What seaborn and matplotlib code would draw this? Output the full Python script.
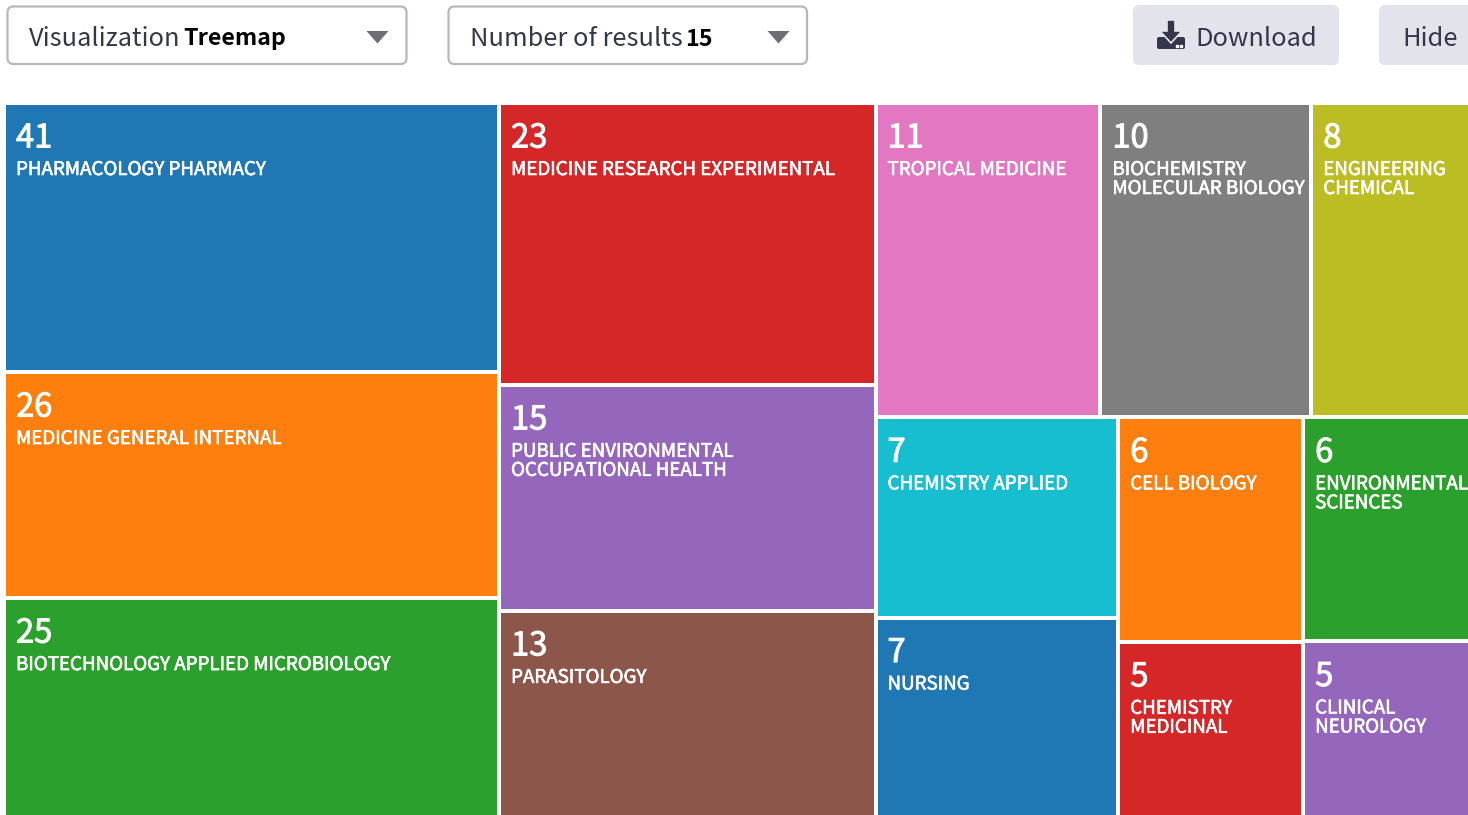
import matplotlib
matplotlib.use("Agg")
import matplotlib.pyplot as plt
import matplotlib.patheffects as pe
from matplotlib.patches import FancyBboxPatch, Polygon
import seaborn as sns

# ---- data ----
categories = ["PHARMACOLOGY PHARMACY", "MEDICINE GENERAL INTERNAL", "BIOTECHNOLOGY APPLIED MICROBIOLOGY",
              "MEDICINE RESEARCH EXPERIMENTAL", "PUBLIC ENVIRONMENTAL\nOCCUPATIONAL HEALTH", "PARASITOLOGY",
              "TROPICAL MEDICINE", "BIOCHEMISTRY\nMOLECULAR BIOLOGY", "ENGINEERING\nCHEMICAL",
              "CHEMISTRY APPLIED", "NURSING", "CELL BIOLOGY", "ENVIRONMENTAL\nSCIENCES",
              "CHEMISTRY\nMEDICINAL", "CLINICAL\nNEUROLOGY"]
counts = [41, 26, 25, 23, 15, 13, 11, 10, 8, 7, 7, 6, 6, 5, 5]
# tile areas (the tiles are not proportional to the counts)
tile_areas = [133.2, 111.9, 108.4, 106.1, 85.1, 77.6, 70.7, 66.3, 49.9, 48.6, 48.4, 41.5, 37.4, 32.4, 29.3]
# slice-and-dice tree: "h" splits left/right, "v" splits top/bottom
tree = ("h", [("v", [0, 1, 2]),
              ("v", [3, 4, 5]),
              ("v", [("h", [6, 7, 8]),
                     ("h", [("v", [9, 10]), ("v", [11, 13]), ("v", [12, 14])])])])

sns.set_theme(style="white")
plt.rcParams["font.family"] = ["Noto Sans CJK SC", "DejaVu Sans"]
palette = sns.color_palette("tab10")

W, H = 1468, 815
fig = plt.figure(figsize=(W / 100, H / 100), dpi=100, facecolor="white")
ax = fig.add_axes([0, 0, 1, 1])
ax.set_xlim(0, W)
ax.set_ylim(H, 0)
ax.axis("off")


def weight(node):
    if isinstance(node, int):
        return tile_areas[node]
    return sum(weight(c) for c in node[1])


def layout(node, x0, y0, x1, y1, out):
    if isinstance(node, int):
        out[node] = (x0, y0, x1, y1)
        return
    total = weight(node)
    pos = x0 if node[0] == "h" else y0
    for child in node[1]:
        f = weight(child) / total
        if node[0] == "h":
            nxt = pos + f * (x1 - x0)
            layout(child, pos, y0, nxt, y1, out)
        else:
            nxt = pos + f * (y1 - y0)
            layout(child, x0, pos, x1, nxt, out)
        pos = nxt


cells = {}
layout(tree, 4, 103, 1470, 817, cells)

GAP_PT = 4 * 72 / 100
heavy = [pe.withStroke(linewidth=0.45, foreground="white")]
for i, (name, n) in enumerate(zip(categories, counts)):
    x0, y0, x1, y1 = cells[i]
    ax.bar(x0, y1 - y0, width=x1 - x0, bottom=y0, align="edge",
           color=palette[i % 10], edgecolor="white", linewidth=GAP_PT)
    tx = x0 + 12
    ty = y0 + 2
    ax.text(tx, ty + 42.5, str(n), color="white", fontsize=23.5, va="baseline", ha="left",
            path_effects=[pe.withStroke(linewidth=0.7, foreground="white")])
    for j, line in enumerate(name.split("\n")):
        ax.text(tx, ty + 70 + 19 * j, line, color="white", fontsize=13.5,
                va="baseline", ha="left", path_effects=heavy)

# ---- controls above the chart ----
INK = "#34364a"


def box(x0, y0, x1, y1, face, edge, lw):
    ax.add_patch(FancyBboxPatch((x0 + 5, y0 + 5), x1 - x0 - 10, y1 - y0 - 10,
                                boxstyle="round,pad=5,rounding_size=6",
                                facecolor=face, edgecolor=edge, linewidth=lw, mutation_aspect=1))


box(7.5, 6.5, 406.5, 64, "white", "#b7b7bf", 1.6)
box(448.5, 6.5, 807, 64, "white", "#b7b7bf", 1.6)
box(1133, 5, 1339, 65, "#e3e3ec", "none", 0)
box(1379, 5, 1490, 65, "#e3e3ec", "none", 0)

for cx in (377.5, 778.5):
    ax.add_patch(Polygon([(cx - 11, 31), (cx + 11, 31), (cx, 43.5)], closed=True,
                         facecolor="#6d6e78", edgecolor="none"))

ax.text(29, 45.5, "Visualization", color=INK, fontsize=18.3, va="baseline")
ax.text(183, 45.5, "Treemap", color="black", fontsize=16.7, fontweight="bold", va="baseline")
ax.text(470, 45.5, "Number of results", color=INK, fontsize=18.3, va="baseline")
ax.text(685, 45.5, "15", color="black", fontsize=16.7, fontweight="bold", va="baseline")
ax.text(1195, 45.5, "Download", color=INK, fontsize=18.3, va="baseline")
ax.text(1402, 45.5, "Hide", color=INK, fontsize=18.3, va="baseline")

# download icon
ax.add_patch(FancyBboxPatch((1158, 38), 26, 10, boxstyle="round,pad=1,rounding_size=2",
                            facecolor=INK, edgecolor="none"))
ax.add_patch(Polygon([(1167, 20), (1175, 20), (1175, 31), (1182, 31), (1171, 43), (1160, 31), (1167, 31)],
                     closed=True, facecolor=INK, edgecolor="#e3e3ec", linewidth=1.2))
ax.add_patch(Polygon([(1176, 44.5), (1178, 44.5), (1178, 46.5), (1176, 46.5)], closed=True, facecolor="#e3e3ec"))
ax.add_patch(Polygon([(1180, 44.5), (1182, 44.5), (1182, 46.5), (1180, 46.5)], closed=True, facecolor="#e3e3ec"))

fig.savefig("out.png", dpi=100, facecolor="white")
